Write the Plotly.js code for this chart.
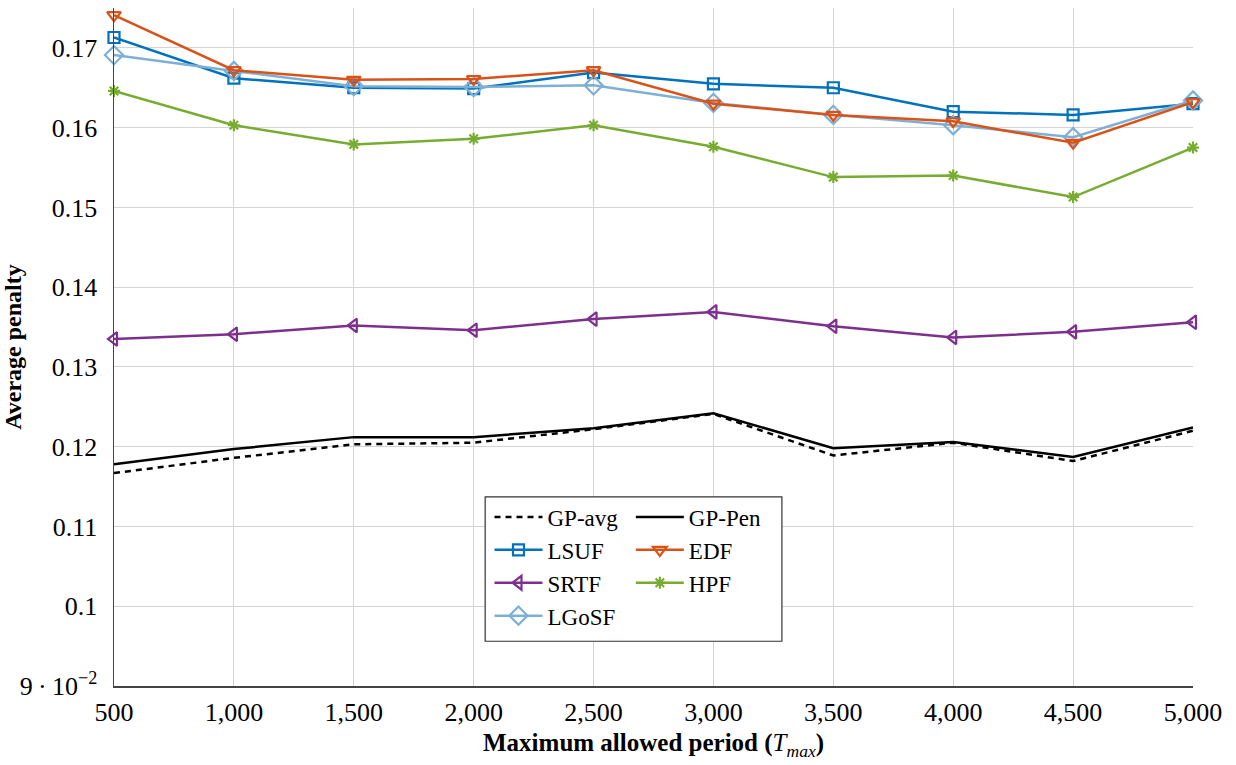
<!DOCTYPE html>
<html>
<head>
<meta charset="utf-8">
<script src="https://cdn.plot.ly/plotly-3.0.1.min.js"></script>
<style>html,body{margin:0;padding:0;background:#fff;}#chart{width:1236px;height:765px;}</style>
</head>
<body>
<div id="chart"></div>
<script>
const periods = [500, 1000, 1500, 2000, 2500, 3000, 3500, 4000, 4500, 5000];
const gpAvg  = [0.1167, 0.1186, 0.1203, 0.1205, 0.1222, 0.1241, 0.1189, 0.1205, 0.1182, 0.1220];
const gpPen  = [0.1178, 0.1197, 0.1212, 0.1212, 0.1223, 0.1242, 0.1198, 0.1206, 0.1187, 0.1224];
const lsuf   = [0.1713, 0.1662, 0.1650, 0.1649, 0.1669, 0.1655, 0.1650, 0.1620, 0.1616, 0.1630];
const edf    = [0.1741, 0.1672, 0.1660, 0.1661, 0.1672, 0.1630, 0.1616, 0.1608, 0.1581, 0.1632];
const srtf   = [0.1335, 0.1341, 0.1352, 0.1346, 0.1360, 0.1369, 0.1351, 0.1337, 0.1344, 0.1356];
const hpf    = [0.1646, 0.1603, 0.1579, 0.1586, 0.1603, 0.1576, 0.1538, 0.1540, 0.1513, 0.1575];
const lgosf  = [0.1691, 0.1671, 0.1652, 0.1651, 0.1653, 0.1631, 0.1616, 0.1603, 0.1588, 0.1634];

const xTickVals = [500, 1000, 1500, 2000, 2500, 3000, 3500, 4000, 4500, 5000];
const xTickText = ['500', '1,000', '1,500', '2,000', '2,500', '3,000', '3,500', '4,000', '4,500', '5,000'];
const yTickVals = [0.09, 0.10, 0.11, 0.12, 0.13, 0.14, 0.15, 0.16, 0.17];
const yTickText = ['9\u2009\u00b7\u200910<sup>\u22122</sup>', '0.1', '0.11', '0.12', '0.13', '0.14', '0.15', '0.16', '0.17'];

const LW = 2.5;
function tr(name, y, color, opts) {
  return Object.assign({
    type: 'scatter', x: periods, y: y, name: name,
    mode: 'lines+markers',
    line: {color: color, width: LW},
    cliponaxis: false
  }, opts);
}
const traces = [
  tr('GP-avg', gpAvg, '#000000', {mode: 'lines', line: {color: '#000', width: LW, dash: '6px,5px'}, legend: 'legend', legendgroup: 'a'}),
  tr('LSUF', lsuf, '#0072BD', {marker: {symbol: 'square-open', size: 11, color: '#0072BD', line: {width: 2.2}}, legend: 'legend', legendgroup: 'b'}),
  tr('SRTF', srtf, '#7E2F8E', {marker: {symbol: 'triangle-left-open', size: 12, color: '#7E2F8E', line: {width: 2.2}}, legend: 'legend', legendgroup: 'c'}),
  tr('LGoSF', lgosf, '#7EB0D5', {marker: {symbol: 'diamond-open', size: 14, color: '#7EB0D5', line: {width: 2.2}}, legend: 'legend', legendgroup: 'd'}),
  tr('GP-Pen', gpPen, '#000000', {mode: 'lines', line: {color: '#000', width: LW}, legend: 'legend2', legendgroup: 'e'}),
  tr('EDF', edf, '#D95319', {marker: {symbol: 'triangle-down-open', size: 12, color: '#D95319', line: {width: 2.2}}, legend: 'legend2', legendgroup: 'f'}),
  tr('HPF', hpf, '#77AC30', {marker: {symbol: 'asterisk-open', size: 10, color: '#77AC30', line: {width: 2.2}}, legend: 'legend2', legendgroup: 'g'})
];

const FONT = "'Liberation Serif', 'Times New Roman', serif";
const legendCommon = {
  bgcolor: 'rgba(0,0,0,0)', borderwidth: 0,
  font: {family: FONT, size: 23, color: '#000'},
  tracegroupgap: 0, itemwidth: 48,
  xanchor: 'left', yanchor: 'top', traceorder: 'normal'
};
const layout = {
  width: 1236, height: 765,
  margin: {l: 114, r: 43, t: 8, b: 79},
  paper_bgcolor: '#fff', plot_bgcolor: '#fff',
  font: {family: FONT, size: 26, color: '#000'},
  showlegend: true,
  xaxis: {
    range: [500, 5000], tickvals: xTickVals, ticktext: xTickText,
    showgrid: true, gridcolor: '#d4d4d4', gridwidth: 1,
    showline: true, linecolor: '#444', linewidth: 1.5,
    zeroline: false, ticks: '', tickfont: {family: FONT, size: 26, color: '#000'},
    ticklabelstandoff: 2,
    title: {text: '<b>Maximum allowed period (</b><i>T<sub>max</sub></i><b>)</b>', font: {family: FONT, size: 25, color: '#000'}, standoff: 8}
  },
  yaxis: {
    range: [0.09, 0.175], tickvals: yTickVals, ticktext: yTickText,
    showgrid: true, gridcolor: '#d4d4d4', gridwidth: 1,
    showline: true, linecolor: '#444', linewidth: 1.5,
    zeroline: false, ticks: '', tickfont: {family: FONT, size: 26, color: '#000'},
    ticklabelstandoff: 10,
    title: {text: '<b>Average penalty</b>', font: {family: FONT, size: 24, color: '#000'}, standoff: 5}
  },
  legend: Object.assign({}, legendCommon, {x: 0.348, y: 0.281}),
  legend2: Object.assign({}, legendCommon, {x: 0.479, y: 0.281}),
  shapes: [{
    type: 'rect', xref: 'paper', yref: 'paper',
    x0: 0.344, x1: 0.619, y0: 0.066, y1: 0.279,
    fillcolor: '#fff', line: {color: '#333', width: 1.2}, layer: 'above'
  }]
};
Plotly.newPlot('chart', traces, layout, {displayModeBar: false, staticPlot: true});
</script>
</body>
</html>
